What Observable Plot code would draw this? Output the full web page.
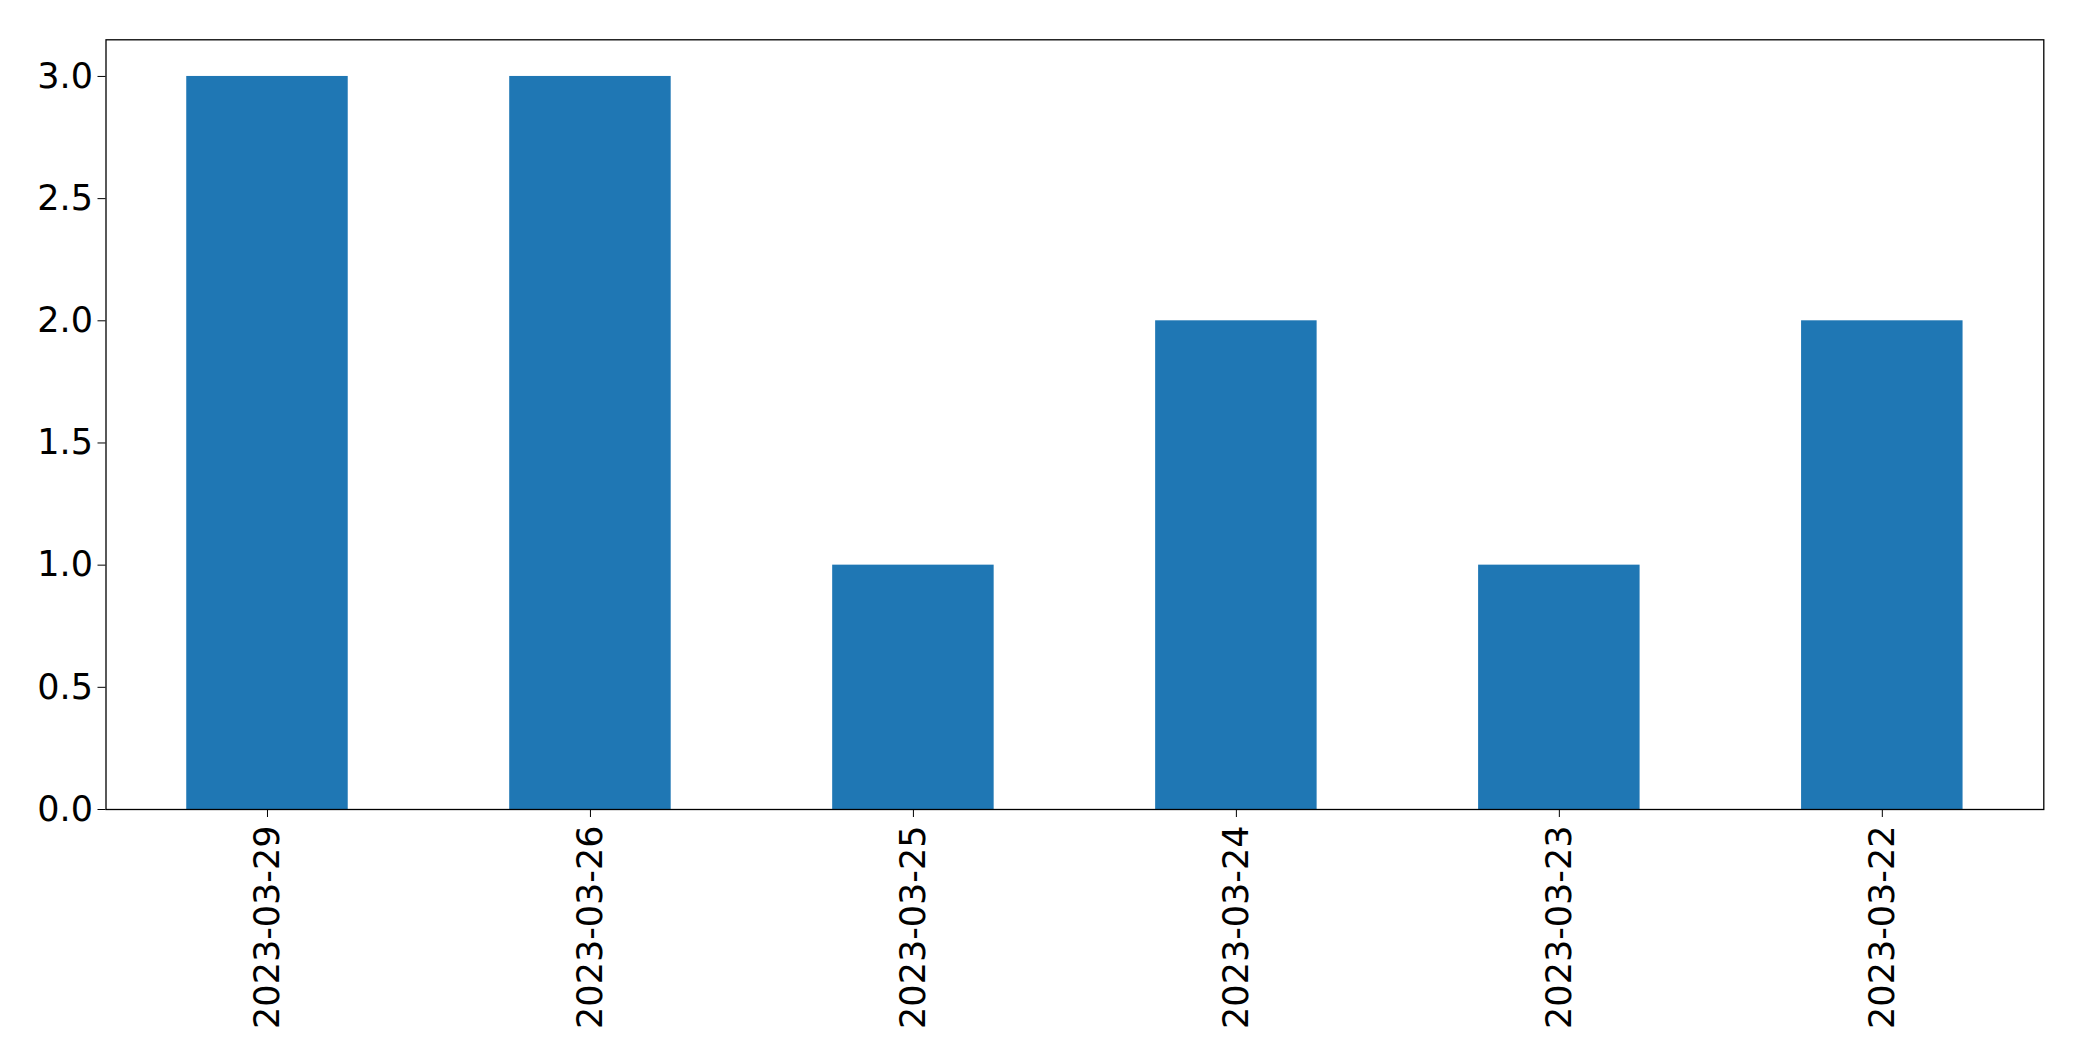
<!DOCTYPE html>
<html>
<head>
<meta charset="utf-8">
<script src="https://cdn.jsdelivr.net/npm/d3@7"></script>
<script src="https://cdn.jsdelivr.net/npm/@observablehq/plot@0.6"></script>
<style>
  html, body { margin: 0; padding: 0; background: #fff; }
  #chart svg { display: block; }
</style>
</head>
<body>
<div id="chart"></div>
<script>
const dates = ["2023-03-29", "2023-03-26", "2023-03-25", "2023-03-24", "2023-03-23", "2023-03-22"];
const counts = [3, 3, 1, 2, 1, 2];
const yTicks = [0, 0.5, 1, 1.5, 2, 2.5, 3];

const data = dates.map((d, i) => ({date: d, count: counts[i]}));

const chart = Plot.plot({
  width: 2082,
  height: 1061,
  marginLeft: 105.5,
  marginRight: 38.7,
  marginTop: 39.3,
  marginBottom: 252,
  style: {fontFamily: "DejaVu Sans", fontSize: "35px", color: "black", background: "white"},
  x: {domain: dates, paddingInner: 0.5, paddingOuter: 0.25, round: false, label: null},
  y: {domain: [0, 3.15], label: null},
  marks: [
    Plot.barY(data, {x: "date", y: "count", fill: "#1f77b4"}),
    Plot.axisY({ticks: yTicks, tickFormat: d3.format(".1f"), tickSize: 8, tickPadding: 5, label: null, fontSize: 35}),
    Plot.axisX({tickRotate: -90, tickSize: 8, tickPadding: 8, label: null, fontSize: 35}),
    Plot.frame({stroke: "black", strokeWidth: 1.3})
  ]
});
document.getElementById("chart").append(chart);
</script>
</body>
</html>
